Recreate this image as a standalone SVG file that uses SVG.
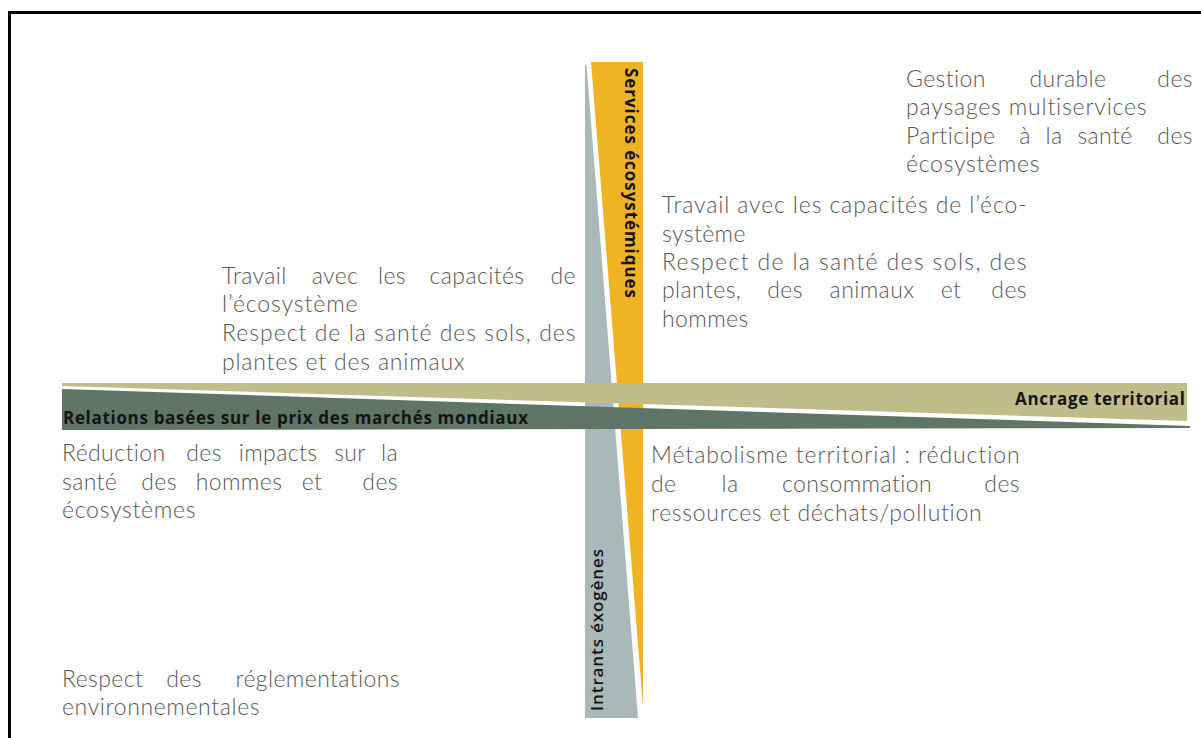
<svg xmlns="http://www.w3.org/2000/svg" width="1201" height="738" viewBox="0 0 1201 738">
<style>
.t{font-family:Lato,"Open Sans","Liberation Sans",sans-serif;font-weight:300;font-size:23px;fill:#585858;letter-spacing:0.4px}
.b{font-family:"Open Sans",Lato,"Liberation Sans",sans-serif;font-weight:700;font-size:17px;fill:#141414}
.e{text-anchor:end}
.m{text-anchor:middle}
</style>
<rect width="1201" height="738" fill="#fff"/>
<path d="M9.5,738 V12.5 H1201" fill="none" stroke="#000" stroke-width="3"/>
<g id="axes">
  <polygon id="bar-intrants" points="585,65 586.5,65 638,718 585,718" fill="#a9b9b9"/>
  <polygon id="bar-services" points="591,62 643,62 643,706" fill="#f0b323"/>
  <polygon id="bar-ancrage" points="62,383 1187,383 1187,421 62,386" fill="#bfbd8a"/>
  <polygon id="bar-marches" points="62,389 1190,426 1190,428 62,430" fill="#5f7567"/>
</g>
<g id="axis-labels">
  <text id="lbl-services" class="b" transform="translate(625,68) rotate(90)" textLength="230" lengthAdjust="spacing" fill="#2a2410">Services écosystémiques</text>
  <text id="lbl-intrants" class="b" style="font-weight:600" transform="translate(603,711) rotate(-90)" textLength="162" lengthAdjust="spacing">Intrants éxogènes</text>
  <text id="lbl-ancrage" class="b" x="1015" y="405" textLength="170" lengthAdjust="spacing">Ancrage territorial</text>
  <text id="lbl-marches" class="b" x="63" y="424" textLength="465" lengthAdjust="spacing">Relations basées sur le prix des marchés mondiaux</text>
</g>
<g id="node-gestion">
  <text class="t" y="87"><tspan x="906">Gestion</tspan><tspan class="m" x="1068">durable</tspan><tspan class="e" x="1193">des</tspan></text>
  <text class="t" x="906" y="115" textLength="241" lengthAdjust="spacing">paysages multiservices</text>
  <text class="t" y="144"><tspan x="906">Participe</tspan><tspan class="m" x="1025">à</tspan><tspan class="m" x="1054">la</tspan><tspan class="m" x="1105">santé</tspan><tspan class="e" x="1193">des</tspan></text>
  <text class="t" x="906" y="172" textLength="134" lengthAdjust="spacing">écosystèmes</text>
</g>
<g id="node-travail-droite">
  <text class="t" x="662" y="213" textLength="365" lengthAdjust="spacing">Travail avec les capacités de l’éco-</text>
  <text class="t" x="662" y="242">système</text>
  <text class="t" x="662" y="270" textLength="365" lengthAdjust="spacing">Respect de la santé des sols, des</text>
  <text class="t" y="298"><tspan x="662">plantes,</tspan><tspan class="m" x="785">des</tspan><tspan class="m" x="872">animaux</tspan><tspan class="m" x="951">et</tspan><tspan class="e" x="1027">des</tspan></text>
  <text class="t" x="662" y="327">hommes</text>
</g>
<g id="node-travail-gauche">
  <text class="t" y="284"><tspan x="222">Travail</tspan><tspan class="m" x="335">avec</tspan><tspan class="m" x="392">les</tspan><tspan class="m" x="477">capacités</tspan><tspan class="e" x="576">de</tspan></text>
  <text class="t" x="222" y="312" textLength="136" lengthAdjust="spacing">l’écosystème</text>
  <text class="t" x="222" y="341" textLength="354" lengthAdjust="spacing">Respect de la santé des sols, des</text>
  <text class="t" x="222" y="370" textLength="243" lengthAdjust="spacing">plantes et des animaux</text>
</g>
<g id="node-reduction">
  <text class="t" y="461"><tspan x="62">Réduction</tspan><tspan class="m" x="204">des</tspan><tspan class="m" x="278">impacts</tspan><tspan class="m" x="350">sur</tspan><tspan class="e" x="398">la</tspan></text>
  <text class="t" y="490"><tspan x="62">santé</tspan><tspan class="m" x="159">des</tspan><tspan class="m" x="239">hommes</tspan><tspan class="m" x="312">et</tspan><tspan class="e" x="398">des</tspan></text>
  <text class="t" x="62" y="518" textLength="134" lengthAdjust="spacing">écosystèmes</text>
</g>
<g id="node-metabolisme">
  <text class="t" x="651" y="463" textLength="369" lengthAdjust="spacing">Métabolisme territorial : réduction</text>
  <text class="t" y="492"><tspan x="651">de</tspan><tspan class="m" x="730">la</tspan><tspan class="m" x="857">consommation</tspan><tspan class="e" x="1020">des</tspan></text>
  <text class="t" x="651" y="521" textLength="331" lengthAdjust="spacing">ressources et déchats/pollution</text>
</g>
<g id="node-reglementations">
  <text class="t" y="687"><tspan x="62">Respect</tspan><tspan class="m" x="184">des</tspan><tspan class="e" x="400">réglementations</tspan></text>
  <text class="t" x="62" y="715" textLength="198" lengthAdjust="spacing">environnementales</text>
</g>
</svg>
